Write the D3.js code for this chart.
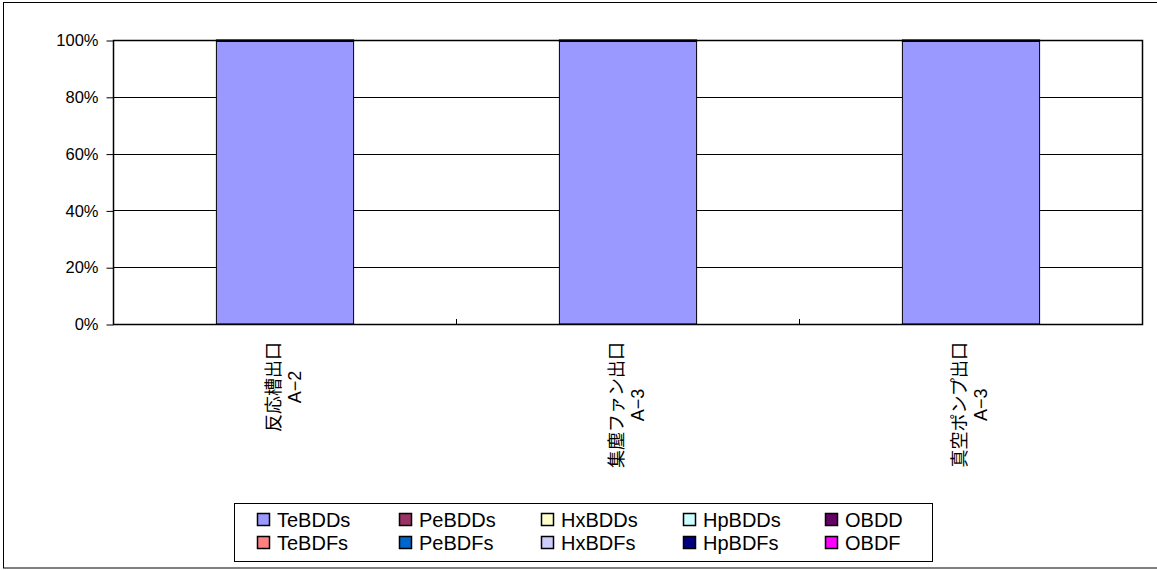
<!DOCTYPE html>
<html><head><meta charset="utf-8">
<script src="https://cdn.jsdelivr.net/npm/d3@7"></script>
<style>body{margin:0;background:#fff}svg{display:block}</style>
</head><body>
<svg id="c" width="1157" height="570"></svg>
<script>
const categories = [["反応槽出口","A−2"],["集塵ファン出口","A−3"],["真空ポンプ出口","A−3"]];
const seriesNames = ["TeBDDs","PeBDDs","HxBDDs","HpBDDs","OBDD","TeBDFs","PeBDFs","HxBDFs","HpBDFs","OBDF"];
const seriesColors = ["#9999FF","#993366","#FFFFCC","#CCFFFF","#660066","#FF8080","#0066CC","#CCCCFF","#000080","#FF00FF"];
const TeBDDs = [99.5,99.5,99.5];
const PeBDDs = [0.3,0.3,0.3];
const HxBDDs = [0.1,0.1,0.1];
const HpBDDs = [0.1,0.1,0.1];
const OBDD = [0,0,0];
const TeBDFs = [0,0,0];
const PeBDFs = [0,0,0];
const HxBDFs = [0,0,0];
const HpBDFs = [0,0,0];
const OBDF = [0,0,0];
const yTicks = [0,20,40,60,80,100];
const yTickLabels = ["0%","20%","40%","60%","80%","100%"];

const seriesValues = [TeBDDs,PeBDDs,HxBDDs,HpBDDs,OBDD,TeBDFs,PeBDFs,HxBDFs,HpBDFs,OBDF];
const svg = d3.select("#c");
const L=113,R=1142,T=40,B=324;
const latin = "'Liberation Sans', Arial, sans-serif";
const cjk = "'Liberation Sans','Noto Sans CJK JP', sans-serif";

// outer frame
svg.append("rect").attr("x",3.5).attr("y",2.5).attr("width",1160).attr("height",565.5)
  .attr("fill","#fff").attr("stroke","#000").attr("stroke-width",1);

const x = d3.scaleBand().domain(d3.range(categories.length)).range([L,R]).paddingInner(0.6).paddingOuter(0.3);
const xb = d3.scaleBand().domain(d3.range(categories.length)).range([L,R]);
const y = d3.scaleLinear().domain([0,100]).range([B,T]);

// gridlines
svg.append("g").selectAll("line").data(yTicks.slice(1)).join("line")
  .attr("x1",L).attr("x2",R).attr("y1",d=>Math.round(y(d))+0.5).attr("y2",d=>Math.round(y(d))+0.5)
  .attr("stroke","#000").attr("stroke-width",1);

// stacked data
const rows = categories.map((c,i)=>{const o={i}; seriesNames.forEach((s,k)=>o[s]=seriesValues[k][i]); return o;});
const stack = d3.stack().keys(seriesNames).offset(d3.stackOffsetExpand)(rows);
const g = svg.append("g");
stack.forEach((layer,k)=>{
  g.selectAll(null).data(layer.filter(d=>d[1]-d[0]>0)).join("rect")
    .attr("x",d=>x(d.data.i)+0.5).attr("width",x.bandwidth())
    .attr("y",d=>y(d[1]*100)).attr("height",d=>Math.max(0,y(d[0]*100)-y(d[1]*100)))
    .attr("fill",seriesColors[k]).attr("stroke","#000").attr("stroke-width",1);
});

// plot border
svg.append("rect").attr("x",L+0.5).attr("y",T+0.5).attr("width",R-L).attr("height",B-T)
  .attr("fill","none").attr("stroke","#000").attr("stroke-width",1.5);

// y axis
const yAxis = d3.axisLeft(y).tickValues(yTicks).tickFormat((d,i)=>yTickLabels[i]).tickSize(7).tickPadding(8);
const ya = svg.append("g").attr("transform",`translate(${L+0.5},0.5)`).call(yAxis);
ya.select(".domain").remove();
ya.selectAll("line").attr("stroke","#000");
ya.selectAll("text").attr("font-family",latin).attr("font-size",16.5).attr("fill","#000");

// x category boundary ticks (inward)
svg.append("g").selectAll("line").data(d3.range(1,categories.length)).join("line")
  .attr("x1",d=>xb(d)+0.5).attr("x2",d=>xb(d)+0.5).attr("y1",B-5).attr("y2",B)
  .attr("stroke","#000");

// category labels rotated
categories.forEach((lines,i)=>{
  const cx = xb(i)+xb.bandwidth()/2;
  const grp = svg.append("g");
  const texts = lines.map((t,j)=>grp.append("text").text(t)
    .attr("font-family",cjk).attr("font-size",18).attr("fill","#000")
    .attr("text-anchor","middle"));
  const maxLen = d3.max(texts,t=>t.node().getComputedTextLength());
  const cy = 342 + maxLen/2;
  const n = lines.length, lh = 21;
  texts.forEach((t,j)=>{
    const off = (j-(n-1)/2)*lh;
    t.attr("transform",`translate(${cx+off+6},${cy}) rotate(-90)`);
  });
});

// legend
svg.append("rect").attr("x",234.5).attr("y",503.5).attr("width",698).attr("height",58)
  .attr("fill","#fff").attr("stroke","#000").attr("stroke-width",1);
const lg = svg.append("g");
seriesNames.forEach((s,k)=>{
  const col=k%5,row=Math.floor(k/5);
  const lx=257+col*142, ly=520+row*23;
  lg.append("rect").attr("x",lx+0.5).attr("y",ly-6.5).attr("width",12).attr("height",12)
    .attr("fill",seriesColors[k]).attr("stroke","#000").attr("stroke-width",1.5);
  lg.append("text").attr("x",lx+20).attr("y",ly+7).text(s)
    .attr("font-family",latin).attr("font-size",20).attr("fill","#000");
});
</script>
</body></html>
